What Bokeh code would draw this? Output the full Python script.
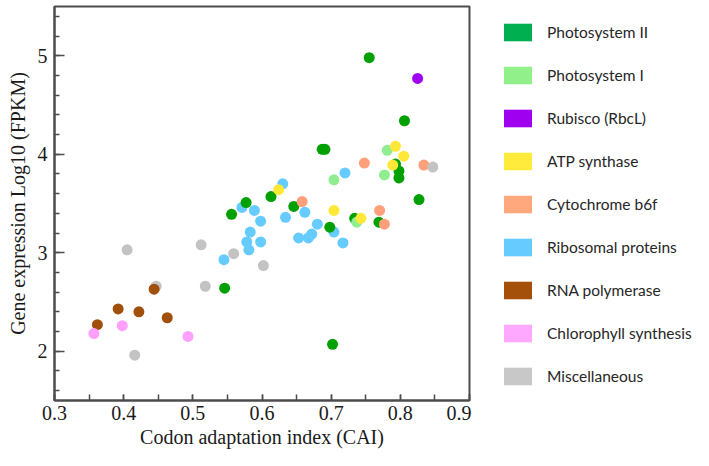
from bokeh.plotting import figure
from bokeh.layouts import row
from bokeh.models import Legend, LegendItem, Range1d, SingleIntervalTicker
from bokeh.embed import file_html
from bokeh.resources import INLINE

# ---- data ----
categories = ["Photosystem II", "Photosystem I", "Rubisco (RbcL)", "ATP synthase",
              "Cytochrome b6f", "Ribosomal proteins", "RNA polymerase",
              "Chlorophyll synthesis", "Miscellaneous"]
point_colors = ["#00A000", "#90EE90", "#A000F0", "#FFE838", "#FFA07A",
                "#66CCFF", "#A0500A", "#FFA0FF", "#C3C3C3"]
legend_colors = ["#00B050", "#92F08A", "#A000F0", "#FFEB3B", "#FFA87E",
                 "#66CCFF", "#A5500A", "#FFA8FF", "#C8C8C8"]

ps2_x = [0.755, 0.806, 0.687, 0.691, 0.798, 0.798, 0.793, 0.827, 0.613, 0.577,
         0.556, 0.646, 0.698, 0.734, 0.769, 0.546, 0.702]
ps2_y = [4.98, 4.34, 4.05, 4.05, 3.83, 3.76, 3.90, 3.54, 3.57, 3.51,
         3.39, 3.47, 3.26, 3.35, 3.31, 2.64, 2.07]
ps1_x = [0.781, 0.777, 0.704, 0.737]
ps1_y = [4.04, 3.79, 3.74, 3.31]
rubisco_x = [0.825]
rubisco_y = [4.77]
atp_x = [0.793, 0.805, 0.789, 0.624, 0.704, 0.743]
atp_y = [4.08, 3.98, 3.89, 3.64, 3.43, 3.35]
cyt_x = [0.748, 0.834, 0.658, 0.770, 0.777]
cyt_y = [3.91, 3.89, 3.52, 3.43, 3.29]
ribo_x = [0.630, 0.720, 0.571, 0.589, 0.598, 0.634, 0.662, 0.583, 0.578, 0.581,
          0.598, 0.680, 0.653, 0.667, 0.672, 0.704, 0.717, 0.545]
ribo_y = [3.70, 3.81, 3.46, 3.43, 3.32, 3.36, 3.41, 3.21, 3.11, 3.03,
          3.11, 3.29, 3.15, 3.15, 3.19, 3.21, 3.10, 2.93]
rnap_x = [0.444, 0.392, 0.422, 0.463, 0.362]
rnap_y = [2.63, 2.43, 2.40, 2.34, 2.27]
chl_x = [0.398, 0.357, 0.493]
chl_y = [2.26, 2.18, 2.15]
misc_x = [0.847, 0.405, 0.512, 0.559, 0.602, 0.447, 0.518, 0.416]
misc_y = [3.87, 3.03, 3.08, 2.99, 2.87, 2.66, 2.66, 1.96]

series = {
    "Photosystem II": (ps2_x, ps2_y),
    "Photosystem I": (ps1_x, ps1_y),
    "Rubisco (RbcL)": (rubisco_x, rubisco_y),
    "ATP synthase": (atp_x, atp_y),
    "Cytochrome b6f": (cyt_x, cyt_y),
    "Ribosomal proteins": (ribo_x, ribo_y),
    "RNA polymerase": (rnap_x, rnap_y),
    "Chlorophyll synthesis": (chl_x, chl_y),
    "Miscellaneous": (misc_x, misc_y),
}
draw_order = ["Ribosomal proteins", "Photosystem II", "Photosystem I", "Rubisco (RbcL)",
              "ATP synthase", "Cytochrome b6f", "Miscellaneous", "RNA polymerase",
              "Chlorophyll synthesis"]

H = 450
# ---- main scatter figure ----
p = figure(width=471, height=H, x_range=Range1d(0.3, 0.9), y_range=Range1d(1.5, 5.5),
           output_backend="svg", toolbar_location=None,
           min_border_left=54, min_border_right=2, min_border_top=6, min_border_bottom=50)
p.background_fill_color = "white"
p.border_fill_color = "white"
p.grid.visible = False
p.outline_line_color = "#4d4d4d"
p.outline_line_width = 2

for name in draw_order:
    xs, ys = series[name]
    c = point_colors[categories.index(name)]
    p.scatter(xs, ys, size=11, fill_color=c, line_color=None)

p.xaxis.ticker = SingleIntervalTicker(interval=0.1, num_minor_ticks=2)
p.yaxis.ticker = SingleIntervalTicker(interval=1, num_minor_ticks=5)
p.xaxis.axis_label = "Codon adaptation index (CAI)"
p.yaxis.axis_label = "Gene expression Log10 (FPKM)"
for ax in (p.xaxis[0], p.yaxis[0]):
    ax.axis_line_color = "#4d4d4d"
    ax.axis_line_width = 2
    ax.major_tick_line_color = "#4d4d4d"
    ax.minor_tick_line_color = "#4d4d4d"
    ax.major_tick_line_width = 1.5
    ax.minor_tick_line_width = 1.5
    ax.major_tick_out = 0
    ax.minor_tick_out = 0
    ax.major_label_text_font = "Liberation Serif"
    ax.major_label_text_font_size = "20px"
    ax.major_label_text_color = "#1a1a1a"
    ax.axis_label_text_font = "Liberation Serif"
    ax.axis_label_text_font_size = "20px"
    ax.axis_label_text_font_style = "normal"
    ax.axis_label_text_color = "#1a1a1a"
p.xaxis.major_label_standoff = 5
p.xaxis.axis_label_standoff = 3
p.yaxis.major_label_standoff = 7
p.yaxis.axis_label_standoff = 6
p.xaxis.major_tick_in = 6
p.xaxis.minor_tick_in = 6
p.yaxis.major_tick_in = 10
p.yaxis.minor_tick_in = 5

# ---- legend-only figure ----
q = figure(width=222, height=H, x_range=Range1d(0, 1), y_range=Range1d(0, 1),
           output_backend="svg", toolbar_location=None, x_axis_type=None, y_axis_type=None,
           min_border=0, min_border_left=0, min_border_right=0, min_border_top=0, min_border_bottom=0)
q.grid.visible = False
q.outline_line_color = None
q.background_fill_color = "white"
q.border_fill_color = "white"

nan = float("nan")
items = []
for name, c in zip(categories, legend_colors):
    r = q.quad(left=[nan], right=[nan], top=[nan], bottom=[nan], fill_color=c, line_color=None)
    items.append(LegendItem(label=name, renderers=[r]))

legend = Legend(items=items, location=(29, 13), glyph_width=35, glyph_height=22, spacing=21,
                label_text_font="Lato", label_text_font_size="15.5px", label_text_color="#262626",
                border_line_color=None, background_fill_alpha=0, padding=10, margin=0,
                label_standoff=12)
q.add_layout(legend, "center")

layout = row(p, q)
open("out.html", "w").write(file_html(layout, INLINE))
